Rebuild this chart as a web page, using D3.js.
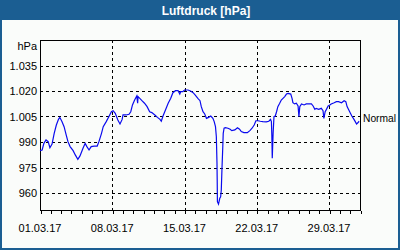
<!DOCTYPE html>
<html><head><meta charset="utf-8">
<script src="https://cdn.jsdelivr.net/npm/d3@7"></script>
<style>html,body{margin:0;padding:0;background:#fff}svg{display:block}</style>
</head><body>
<script>
const title = "Luftdruck [hPa]";
const unitLabel = "hPa";
const normalLabel = "Normal";
const yTicks = [960, 975, 990, 1005, 1020, 1035];
const yTickLabels = ["960", "975", "990", "1.005", "1.020", "1.035"];
const xTicks = ["2017-03-01", "2017-03-08", "2017-03-15", "2017-03-22", "2017-03-29"];
const xTickLabels = ["01.03.17", "08.03.17", "15.03.17", "22.03.17", "29.03.17"];
const times = [
"03-01 00:00","03-01 05:00","03-01 09:00","03-01 14:00","03-01 19:00","03-01 23:00",
"03-02 04:00","03-02 09:00","03-02 14:00","03-02 19:00","03-02 22:00",
"03-03 03:00","03-03 08:00","03-03 13:00","03-03 17:00","03-03 22:00",
"03-04 05:00","03-04 10:00","03-04 16:00","03-04 21:00",
"03-05 04:00","03-05 09:00","03-05 13:00","03-05 18:00","03-05 23:00",
"03-06 06:00","03-06 13:00","03-06 17:00","03-06 23:00",
"03-07 03:00","03-07 10:00","03-07 16:00","03-07 22:00",
"03-08 02:00","03-08 07:00","03-08 13:00","03-08 18:00","03-08 23:00",
"03-09 01:00","03-09 08:00","03-09 15:00","03-09 19:00","03-09 23:00",
"03-10 04:00","03-10 09:00","03-10 11:00","03-10 12:00","03-10 16:00","03-10 21:00",
"03-11 03:00","03-11 09:00","03-11 15:00","03-11 20:00",
"03-12 03:00","03-12 09:00","03-12 15:00","03-12 18:00","03-12 22:00",
"03-13 03:00","03-13 10:00","03-13 16:00","03-13 21:00",
"03-14 03:00","03-14 09:00","03-14 13:00","03-14 15:00","03-14 20:00",
"03-15 00:00","03-15 08:00","03-15 14:00","03-15 20:00",
"03-16 01:00","03-16 07:00","03-16 12:00","03-16 15:00","03-16 19:00","03-16 23:00",
"03-17 03:00","03-17 08:00","03-17 13:00","03-17 18:00","03-17 21:00",
"03-18 00:00","03-18 02:00","03-18 03:30","03-18 04:00","03-18 04:30","03-18 07:00",
"03-18 10:00","03-18 12:00","03-18 13:30","03-18 15:00","03-18 17:00","03-18 18:00","03-18 20:00","03-18 23:00",
"03-19 05:00","03-19 10:00","03-19 14:00","03-19 21:00",
"03-20 03:00","03-20 08:00","03-20 12:00","03-20 18:00",
"03-21 02:00","03-21 08:00","03-21 13:00","03-21 18:00","03-21 22:00",
"03-22 03:00","03-22 08:00","03-22 14:00","03-22 22:00",
"03-23 04:00","03-23 08:00","03-23 10:00","03-23 11:00","03-23 12:00","03-23 14:00","03-23 16:00","03-23 19:00","03-23 22:00",
"03-24 01:00","03-24 05:00","03-24 09:00","03-24 13:00","03-24 17:00","03-24 21:00",
"03-25 01:00","03-25 07:00","03-25 10:00","03-25 12:00","03-25 16:00","03-25 20:00",
"03-26 00:00","03-26 02:00","03-26 04:00","03-26 08:00","03-26 14:00","03-26 19:00",
"03-27 01:00","03-27 07:00","03-27 11:00","03-27 15:00","03-27 18:00",
"03-28 00:00","03-28 06:00","03-28 10:00","03-28 12:00","03-28 15:00","03-28 18:00","03-28 22:00",
"03-29 02:00","03-29 05:00","03-29 12:00","03-29 17:00","03-29 22:00",
"03-30 05:00","03-30 11:00","03-30 15:00","03-30 18:00",
"03-31 00:00","03-31 05:00","03-31 10:00","03-31 13:00","03-31 16:00","03-31 19:00","03-31 22:00"
];
const pressure = [
984.9,985.3,989.2,991.2,990.2,986.6,
988.8,995.1,1000.0,1003.3,1004.5,
1002.0,999.0,994.1,990.2,987.3,
984.9,982.4,979.8,981.8,
986.3,989.2,987.3,985.3,987.3,
987.6,987.6,990.2,995.1,
999.0,1002.0,1004.9,1007.8,
1008.4,1006.9,1002.9,1000.6,1003.3,
1005.9,1005.9,1006.3,1007.8,1011.8,
1014.7,1017.1,1012.8,1016.7,1015.7,1014.3,
1012.8,1010.8,1007.8,1007.3,
1005.9,1004.5,1003.3,1002.2,1005.3,
1008.4,1012.8,1015.7,1019.0,
1020.2,1020.2,1018.2,1019.6,1019.6,
1020.6,1020.6,1020.0,1019.0,
1017.6,1015.7,1014.3,1010.8,1007.8,1006.5,
1003.9,1004.5,1005.3,1003.9,1002.0,
999.0,993.1,977.5,967.6,954.9,953.5,
956.9,957.8,961.8,973.5,987.3,995.1,998.1,998.4,
998.1,997.5,996.7,997.1,
998.4,997.5,996.1,995.5,
995.5,996.7,998.1,1000.0,1002.5,
1002.5,1002.2,1002.0,1001.8,
1002.2,1003.3,1002.0,994.1,980.4,995.1,1004.9,1005.3,1007.8,
1010.8,1012.6,1014.7,1015.7,1016.7,1018.2,
1018.6,1018.2,1015.7,1013.1,1012.4,1012.8,
1011.2,1004.9,1010.8,1012.4,1011.8,1012.4,
1012.4,1012.4,1011.2,1009.2,1009.8,
1009.2,1009.8,1008.4,1003.9,1007.8,1009.2,1011.2,
1011.8,1012.4,1013.1,1013.7,1013.7,
1013.1,1014.3,1013.7,1010.8,
1007.8,1005.3,1003.3,1002.0,1000.6,1001.3,1002.2
];

const W = 400, H = 250;
const m = {left: 40, top: 40, right: 360, bottom: 210};
const parseT = d3.timeParse("%Y-%m-%d %H:%M");
const parseD = d3.timeParse("%Y-%m-%d");
const data = times.map((t, i) => ({t: parseT("2017-" + t), v: pressure[i]}));

const svg = d3.select("body").append("svg").attr("width", W).attr("height", H);
svg.append("rect").attr("width", W).attr("height", H).attr("fill", "#1b5e92");
svg.append("rect").attr("x", 2).attr("y", 20).attr("width", W - 4).attr("height", H - 22).attr("fill", "#fafcfa");
svg.append("text").attr("x", W / 2 + 6).attr("y", 14.5).attr("text-anchor", "middle")
  .attr("font-family", "Liberation Sans, Arial, sans-serif").attr("font-weight", "bold")
  .attr("font-size", 12).attr("fill", "#fff").text(title);

const x = d3.scaleTime().domain([parseD("2017-03-01"), parseD("2017-04-01")]).range([m.left, m.right]);
const y = d3.scaleLinear().domain([950, 1050]).range([m.bottom, m.top]);
const font = "Liberation Sans, Arial, sans-serif";

// grid
const g = svg.append("g").attr("shape-rendering", "crispEdges");
g.selectAll(".hg").data(yTicks).join("line")
  .attr("x1", m.left).attr("x2", m.right)
  .attr("y1", d => Math.round(y(d)) + 0.5).attr("y2", d => Math.round(y(d)) + 0.5)
  .attr("stroke", "#000").attr("stroke-dasharray", "3,3");
g.selectAll(".vg").data(xTicks.slice(1)).join("line")
  .attr("x1", d => Math.round(x(parseD(d))) + 0.5).attr("x2", d => Math.round(x(parseD(d))) + 0.5)
  .attr("y1", m.top).attr("y2", m.bottom)
  .attr("stroke", "#000").attr("stroke-dasharray", "3,3");

// frame
g.append("rect").attr("x", m.left + 0.5).attr("y", m.top + 0.5)
  .attr("width", m.right - m.left).attr("height", m.bottom - m.top)
  .attr("fill", "none").attr("stroke", "#000");

// bottom day ticks
const xAxis = d3.axisBottom(x).ticks(d3.timeDay.every(1)).tickSize(3).tickFormat("");
const xa = svg.append("g").attr("transform", `translate(0.5,${m.bottom + 0.5})`).call(xAxis);
xa.select(".domain").remove();
xa.selectAll("line").attr("stroke", "#000").attr("shape-rendering", "crispEdges");

// x labels
svg.selectAll(".xl").data(xTicks).join("text")
  .attr("x", d => x(parseD(d))).attr("y", 232).attr("text-anchor", "middle")
  .attr("font-family", font).attr("font-size", 11).attr("fill", "#000")
  .text((d, i) => xTickLabels[i]);

// y labels
svg.selectAll(".yl").data(yTicks).join("text")
  .attr("x", 37).attr("y", d => y(d) + 4).attr("text-anchor", "end")
  .attr("font-family", font).attr("font-size", 11).attr("fill", "#000")
  .text((d, i) => yTickLabels[i]);
svg.append("text").attr("x", 37).attr("y", 50).attr("text-anchor", "end")
  .attr("font-family", font).attr("font-size", 11).attr("fill", "#000").text(unitLabel);
svg.append("text").attr("x", 363).attr("y", y(1005) + 5)
  .attr("font-family", font).attr("font-size", 10.5).attr("fill", "#000")
  .attr("textLength", 33).attr("lengthAdjust", "spacingAndGlyphs").text(normalLabel);

// line
const line = d3.line().x(d => x(d.t)).y(d => y(d.v));
svg.append("path").datum(data).attr("d", line)
  .attr("fill", "none").attr("stroke", "#0a0aee").attr("stroke-width", 1.2);
</script>
</body></html>
